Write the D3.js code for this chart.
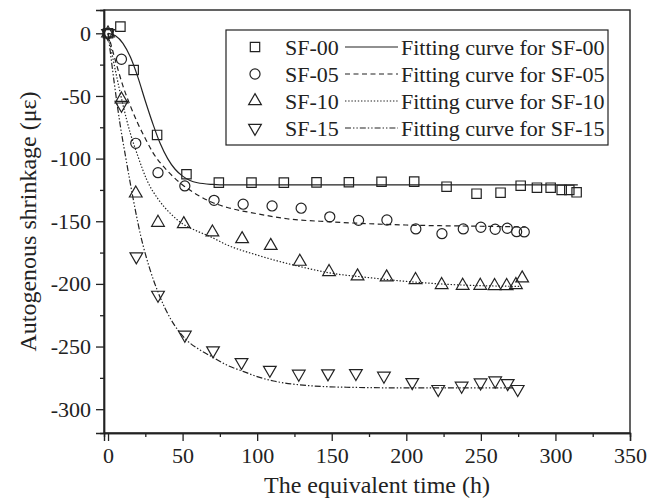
<!DOCTYPE html>
<html><head><meta charset="utf-8">
<script src="https://cdnjs.cloudflare.com/ajax/libs/d3/7.8.5/d3.min.js"></script>
<style>body{margin:0;background:#fff}svg{display:block}</style>
</head><body>
<script>
// ---- data ----
const sf00T = [0, 8.3, 17.2, 32.9, 52.6, 74.3, 96.2, 117.9, 139.8, 161.5, 183.4, 205.3, 227, 247.1, 263.2, 276.7, 287.6, 296.8, 304.2, 309.3, 314.2];
const sf00V = [0, 5.3, -29.3, -81.1, -112.5, -119.2, -119.2, -119.2, -119, -118.9, -118.5, -118.4, -122.4, -128, -127.2, -121.6, -123.2, -123.2, -125, -125, -126.9];
const sf05T = [0, 9, 18.6, 33.5, 51.5, 71.1, 90.6, 110, 129.5, 148.7, 168, 187, 206.4, 223.9, 238.2, 250, 259.6, 267.7, 274, 279.1];
const sf05V = [0, -20.7, -87.8, -111.2, -121.8, -133.3, -136.4, -137.8, -139.6, -146.5, -149.3, -149, -156.1, -159.9, -156.1, -154.8, -156.4, -155.6, -158.3, -158.5];
const sf10T = [0, 9, 18.6, 33.5, 50.8, 70, 89.9, 109.1, 128.6, 148.2, 167.3, 186.8, 206.2, 223.7, 237.8, 249.6, 259.2, 267.3, 273.5, 277.7];
const sf10V = [0, -52.7, -127.7, -151.1, -152.2, -158.8, -164.1, -169.5, -182.2, -190.4, -193.9, -194.7, -196.8, -200.8, -201.4, -201.4, -201.6, -201.6, -200.8, -195.5];
const sf15T = [0, 9, 19, 33.5, 51.5, 70.4, 89.5, 108.5, 127.9, 147.5, 166.2, 185, 204, 221.4, 237.1, 249.8, 259.6, 268, 274.7];
const sf15V = [0, -57.2, -178.2, -208.8, -240.7, -253.2, -262.5, -268.7, -271.8, -271.5, -271.3, -273.4, -278.5, -284, -281.4, -278.8, -277.2, -279.3, -284];

// fitting curves, points
const fit00T = [0, 5, 10, 15, 20, 25, 30, 35, 40, 45, 50, 55, 60, 70, 80, 120, 200, 315];
const fit00V = [0, -2, -8, -19, -35, -54, -72, -88, -100, -108.5, -114, -117.5, -119.3, -120.6, -121, -121, -121, -121];
const fit05T = [0, 5, 10, 15, 20, 25, 30, 40, 50, 60, 70, 80, 100, 120, 150, 200, 250, 280];
const fit05V = [0, -22, -42, -58, -72, -84, -95, -110, -121, -129, -135, -139, -144, -148, -150.5, -153, -154, -154.5];
const fit10T = [0, 5, 10, 15, 20, 26, 34, 42, 50, 60, 68, 80, 100, 128, 150, 175, 200, 230, 276];
const fit10V = [0, -30, -57, -80, -98, -117, -133, -144, -152, -158, -162, -169, -177, -186, -191.5, -195, -198, -200.5, -202];
const fit15T = [0, 4, 8, 12, 17, 22, 28, 34, 42, 52, 62, 71, 80, 91, 100, 111, 128, 160, 200, 272];
const fit15V = [0, -38, -72, -100, -133, -162, -188, -208, -228, -244, -253, -259, -265, -270, -274, -277.5, -280.5, -282.5, -283, -283];

const seriesNames = ["SF-00", "SF-05", "SF-10", "SF-15"];
const fitNames = ["Fitting curve for SF-00", "Fitting curve for SF-05", "Fitting curve for SF-10", "Fitting curve for SF-15"];
const xTicks = [0, 50, 100, 150, 200, 250, 300, 350];
const yTicks = [0, -50, -100, -150, -200, -250, -300];
const xMinor = [25, 75, 125, 175, 225, 275, 325];
const yMinor = [-25, -75, -125, -175, -225, -275];
const xTitle = "The equivalent time (h)";
const yTitle = "Autogenous shrinkage (με)";

// ---- drawing ----
const FONT = "'Liberation Serif', Tinos, 'Times New Roman', Times, 'DejaVu Serif', serif";
const W = 666, H = 500;
const L = 104, T = 10, R = 630, B = 433;
const svg = d3.select("body").append("svg").attr("width", W).attr("height", H)
  .attr("font-family", FONT);
const x = d3.scaleLinear().domain([-2.7, 350]).range([L, R]);
const y = d3.scaleLinear().domain([-319, 18.6]).range([B, T]);
const ink = "#222";

const zip = (a, b) => a.map((t, i) => [t, b[i]]);
const pts = [zip(sf00T, sf00V), zip(sf05T, sf05V), zip(sf10T, sf10V), zip(sf15T, sf15V)];
const fits = [zip(fit00T, fit00V), zip(fit05T, fit05V), zip(fit10T, fit10V), zip(fit15T, fit15V)];
const dashes = [null, "5,3.5", "1.4,1.8", "6,2,1.4,2,1.4,2"];
const symbols = [d3.symbolSquare, d3.symbolCircle, d3.symbolTriangle, d3.symbolTriangle];
const symSize = [88, 80, 70, 70];
const symRot = [0, 0, 0, 180];

// frame
svg.append("rect").attr("x", L).attr("y", T).attr("width", R - L).attr("height", B - T)
  .attr("fill", "none").attr("stroke", ink).attr("stroke-width", 1.4);

// axes
const fmt = d => String(d);
const xAxis = svg.append("g").attr("transform", `translate(0,${B})`)
  .call(d3.axisBottom(x).tickValues(xTicks).tickFormat(fmt).tickSize(8).tickPadding(6));
const xAxisMinor = svg.append("g").attr("transform", `translate(0,${B})`)
  .call(d3.axisBottom(x).tickValues(xMinor).tickFormat("").tickSize(4));
const yAxis = svg.append("g").attr("transform", `translate(${L},0)`)
  .call(d3.axisLeft(y).tickValues(yTicks).tickFormat(fmt).tickSize(8).tickPadding(5));
const yAxisMinor = svg.append("g").attr("transform", `translate(${L},0)`)
  .call(d3.axisLeft(y).tickValues(yMinor).tickFormat("").tickSize(4));
[xAxis, xAxisMinor, yAxis, yAxisMinor].forEach(g => {
  g.attr("font-family", FONT).attr("font-size", 22);
  g.select(".domain").attr("stroke", ink).attr("stroke-width", 1.4);
  g.selectAll(".tick line").attr("stroke", ink).attr("stroke-width", 1.3);
  g.selectAll(".tick text").attr("fill", ink).attr("font-family", FONT).attr("font-size", 22);
});

svg.append("text").attr("x", (L + R) / 2 + 10).attr("y", 493).attr("text-anchor", "middle")
  .attr("font-family", FONT).attr("fill", ink).attr("font-size", 24).text(xTitle);
svg.append("text").attr("transform", `translate(36,${(T + B) / 2}) rotate(-90)`)
  .attr("font-family", FONT).attr("fill", ink)
  .attr("text-anchor", "middle").attr("font-size", 24).text(yTitle);

// curves
const line = d3.line().x(d => x(d[0])).y(d => y(d[1])).curve(d3.curveMonotoneX);
fits.forEach((f, i) => {
  svg.append("path").datum(f).attr("d", line).attr("fill", "none").attr("stroke", ink)
    .attr("stroke-width", 1.2).attr("stroke-dasharray", dashes[i]);
});

// points
pts.forEach((p, i) => {
  const sym = d3.symbol().type(symbols[i]).size(symSize[i]);
  svg.append("g").selectAll("path").data(p).join("path")
    .attr("d", sym)
    .attr("transform", d => `translate(${x(d[0])},${y(d[1])}) rotate(${symRot[i]})`)
    .attr("fill", "none").attr("stroke", ink).attr("stroke-width", 1.2);
});

// legend
const lg = svg.append("g");
lg.append("rect").attr("x", 226).attr("y", 30).attr("width", 382).attr("height", 115)
  .attr("fill", "#fff").attr("stroke", ink).attr("stroke-width", 1.2);
seriesNames.forEach((n, i) => {
  const cy = 47 + i * 27;
  lg.append("path").attr("d", d3.symbol().type(symbols[i]).size(symSize[i])())
    .attr("transform", `translate(255,${cy}) rotate(${symRot[i]})`)
    .attr("fill", "none").attr("stroke", ink).attr("stroke-width", 1.2);
  lg.append("text").attr("x", 285).attr("y", cy + 8).attr("font-family", FONT)
    .attr("fill", ink).attr("font-size", 22).text(n);
  lg.append("line").attr("x1", 345).attr("x2", 398).attr("y1", cy).attr("y2", cy)
    .attr("stroke", ink).attr("stroke-width", 1.2).attr("stroke-dasharray", dashes[i]);
  lg.append("text").attr("x", 401).attr("y", cy + 8).attr("font-family", FONT)
    .attr("fill", ink).attr("font-size", 22).text(fitNames[i]);
});
</script>
</body></html>
